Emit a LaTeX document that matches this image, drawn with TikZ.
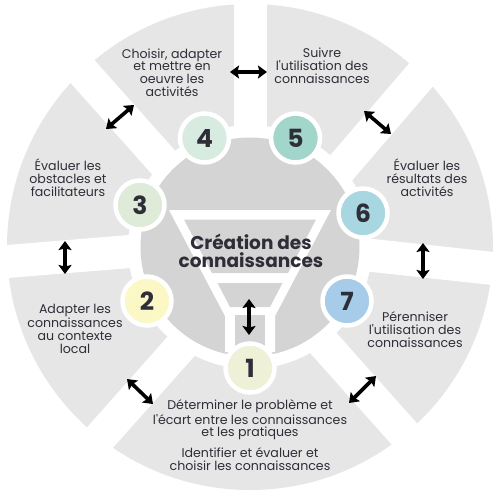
\documentclass[tikz,border=0pt]{standalone}
\usepackage{fontspec}
\setmainfont{Poppins}[Ligatures=TeXOff]
\usetikzlibrary{arrows.meta,calc}
\definecolor{secgray}{HTML}{E6E6E6}
\definecolor{diskgray}{HTML}{D4D4D4}
\definecolor{txt}{HTML}{2E2E38}
\definecolor{cA}{HTML}{EEF0D8}
\definecolor{cB}{HTML}{FBF8C6}
\definecolor{cC}{HTML}{DDEBD8}
\definecolor{cD}{HTML}{D8EBE1}
\definecolor{cE}{HTML}{A2D6CA}
\definecolor{cF}{HTML}{A8D7E2}
\definecolor{cG}{HTML}{A6CCEA}
\begin{document}
\begin{tikzpicture}[x=1pt,y=-1pt,
  gapline/.style={white,line width=33pt},
  numcirc/.style={circle,draw=white,line width=4.5pt,minimum size=49pt,inner sep=0pt,
    font=\fontsize{25}{25}\selectfont\bfseries,text=txt},
  lbl/.style={align=center,text=txt,inner sep=0pt,font=\fontsize{12.6}{12.8}\selectfont},
  dbl/.style={{Stealth[length=9pt,width=13pt,inset=1.5pt]}-{Stealth[length=9pt,width=13pt,inset=1.5pt]},line width=3.6pt,black}]
\useasboundingbox[fill=white] (0,0) rectangle (500,499);
\coordinate (O) at (250,247);
% ring of sectors
\fill[secgray,even odd rule] (O) circle[radius=243pt] (O) circle[radius=122pt];
% gaps between sectors
\foreach \ix/\iy/\ox/\oy in {250/125/250/4, 164.5/163.5/82.5/71.5, 130/251.5/7/261.5,
    180/347.5/100.5/437, 322/341.5/403.5/433, 368/255/493/268.5, 341.5/167.5/420.5/75.5}{
  \coordinate (gi) at (\ix,\iy);
  \coordinate (go) at (\ox,\oy);
  \draw[gapline] ($(gi)!-0.3!(go)$) -- ($(gi)!1.25!(go)$);
}
% centre disk
\fill[diskgray] (O) circle[radius=109.5pt];
% funnel
\fill[white] (169,210) -- (331,210) -- (275,316) -- (275,352) -- (225,352) -- (225,316) -- cycle;
\fill[diskgray] (184,219.5) -- (316,219.5) -- (288,273) -- (212,273) -- cycle;
\fill[diskgray] (217.5,283) -- (282.5,283) -- (270,307) -- (230,307) -- cycle;
\fill[diskgray] (235,315) rectangle (265,352);
% title
\node[align=center,text=txt,font=\fontsize{18.5}{18.4}\selectfont\bfseries] (title) at (251,251) {Création des\\connaissances};
% number circles
\node[numcirc,fill=cA] (n1) at (250,368) {1};
\node[numcirc,fill=cB] (n2) at (147,301) {2};
\node[numcirc,fill=cC] (n3) at (140,205) {3};
\node[numcirc,fill=cD] (n4) at (204.5,138) {4};
\node[numcirc,fill=cE] (n5) at (295.5,138) {5};
\node[numcirc,fill=cF] (n6) at (363,213) {6};
\node[numcirc,fill=cG] (n7) at (347,301) {7};
% labels
\node[lbl] (t4) at (172,72.5) {Choisir, adapter\\et mettre en\\oeuvre les\\activités};
\node[lbl] (t5) at (322,66) {Suivre\\l'utilisation des\\connaissances};
\node[lbl] (t6) at (427,178) {Évaluer les\\résultats des\\activités};
\node[lbl] (t3) at (68,178) {Évaluer les\\obstacles et\\facilitateurs};
\node[lbl] (t2) at (75,329) {Adapter les\\connaissances\\au contexte\\local};
\node[lbl] (t7) at (415,329.5) {Pérenniser\\l'utilisation des\\connaissances};
\node[lbl] (t1a) at (250,420) {Déterminer le problème et\\l'écart entre les connaissances\\et les pratiques};
\node[lbl] (t1b) at (250,459.5) {Identifier et évaluer et\\choisir les connaissances};
% arrows
\coordinate (a45a) at (230,72);   \coordinate (a45b) at (267,72);
\coordinate (a34a) at (106,129);  \coordinate (a34b) at (134,105);
\coordinate (a56a) at (364,111);  \coordinate (a56b) at (391,134);
\coordinate (a23a) at (65,241);   \coordinate (a23b) at (65,274);
\coordinate (a67a) at (423,243);  \coordinate (a67b) at (423,279);
\coordinate (a12a) at (127,379);  \coordinate (a12b) at (153,404);
\coordinate (a71a) at (349,403);  \coordinate (a71b) at (376,376);
\coordinate (acca) at (249,299);  \coordinate (accb) at (249,335);
\draw[dbl] (a45a) -- (a45b);
\draw[dbl] (a34a) -- (a34b);
\draw[dbl] (a56a) -- (a56b);
\draw[dbl] (a23a) -- (a23b);
\draw[dbl] (a67a) -- (a67b);
\draw[dbl] (a12a) -- (a12b);
\draw[dbl] (a71a) -- (a71b);
\draw[dbl] (acca) -- (accb);
\end{tikzpicture}
\end{document}
